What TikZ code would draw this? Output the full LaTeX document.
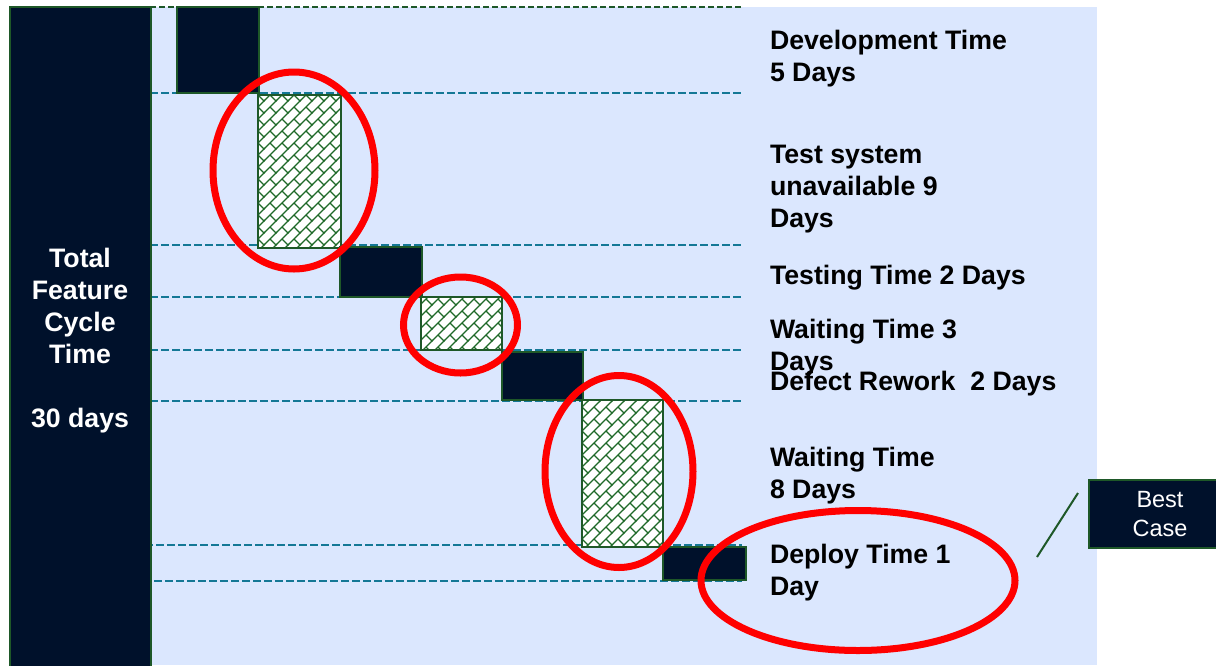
\documentclass[tikz,border=0pt]{standalone}
\usepackage{fontspec}
\setmainfont{Liberation Sans}
\usetikzlibrary{patterns,shapes.geometric}
\definecolor{navy}{RGB}{0,17,43}
\definecolor{bordergreen}{RGB}{30,88,40}
\definecolor{hatchgreen}{RGB}{30,105,40}
\definecolor{bgblue}{RGB}{219,231,254}
\definecolor{teal}{RGB}{20,120,150}
\definecolor{ringred}{RGB}{255,0,0}
\pgfdeclarepatternformonly{diagbrick}{\pgfqpoint{-1pt}{-1pt}}{\pgfqpoint{13pt}{13pt}}{\pgfqpoint{12pt}{12pt}}{%
  \pgfsetlinewidth{1.1pt}%
  \pgfpathmoveto{\pgfqpoint{-1pt}{-1pt}}\pgfpathlineto{\pgfqpoint{13pt}{13pt}}%
  \pgfpathmoveto{\pgfqpoint{6pt}{6pt}}\pgfpathlineto{\pgfqpoint{12pt}{0pt}}%
  \pgfusepath{stroke}}
\tikzset{
  darkblock/.style={draw=bordergreen, line width=2pt, fill=navy, inner sep=0pt, outer sep=0pt, anchor=north west},
  hatchblock/.style={draw=bordergreen, line width=2pt, preaction={fill=white}, pattern=diagbrick, pattern color=hatchgreen, inner sep=0pt, outer sep=0pt, anchor=north west},
  guide/.style={draw=teal, line width=2.2pt, dash pattern=on 8pt off 3pt},
  topguide/.style={draw=bordergreen, line width=1.5pt, dash pattern=on 6pt off 3pt},
  ring/.style={draw=ringred, line width=7pt, ellipse, inner sep=0pt, outer sep=0pt},
  label/.style={font=\fontsize{26.7}{32}\selectfont\bfseries, align=left, anchor=north west, inner sep=0pt, outer sep=0pt},
}
\begin{document}
\begin{tikzpicture}[x=1pt,y=-1pt]
\useasboundingbox (0,0) rectangle (1216,665);
\fill[white] (0,0) rectangle (1216,665);
\fill[bgblue] (150,7) rectangle (1097,665);
% guide lines
\draw[topguide] (150,7) -- (742,7);
\draw[guide] (150,93) -- (742,93);
\draw[guide] (150,245) -- (742,245);
\draw[guide] (150,297) -- (742,297);
\draw[guide] (150,350) -- (742,350);
\draw[guide] (150,401) -- (742,401);
\draw[guide] (145,545) -- (742,545);
\draw[guide] (143,581) -- (742,581);
% total bar
\node[darkblock, minimum width=141pt, minimum height=670pt] (total) at (10,7) {};
% blocks
\node[darkblock, minimum width=82pt, minimum height=86pt] (dev) at (177,7) {};
\node[hatchblock, minimum width=83pt, minimum height=153pt] (testun) at (258,95) {};
\node[darkblock, minimum width=82pt, minimum height=50pt] (testing) at (340,247) {};
\node[hatchblock, minimum width=81pt, minimum height=53pt] (wait3) at (421,297) {};
\node[darkblock, minimum width=81pt, minimum height=48pt] (defect) at (502,352) {};
\node[hatchblock, minimum width=81pt, minimum height=147pt] (wait8) at (582,400) {};
\node[darkblock, minimum width=83pt, minimum height=33pt] (deploy) at (663,547) {};
% rings
\node[ring, minimum width=162pt, minimum height=197pt] (r1) at (294,170.5) {};
\node[ring, minimum width=114pt, minimum height=96pt] (r2) at (460.5,325) {};
\node[ring, minimum width=148pt, minimum height=192pt] (r3) at (619,471.5) {};
\node[ring, minimum width=314pt, minimum height=140pt] (r4) at (858,580.5) {};
% labels
\node[label] (ldev) at (770,30.0) {Development Time\\5 Days};
\node[label] (ltest) at (770,145.0) {Test system\\unavailable 9\\Days};
\node[label] (ltesting) at (770,265.0) {Testing Time 2 Days};
\node[label] (lwait3) at (770,319.0) {Waiting Time 3\\Days};
\node[label] (ldefect) at (770,371.0) {Defect Rework\ \ 2 Days};
\node[label] (lwait8) at (770,447.0) {Waiting Time\\8 Days};
\node[label] (ldeploy) at (770,544.0) {Deploy Time 1\\Day};
\node[label, anchor=north, align=center, text=white] (ltotal) at (80,248.0) {Total\\Feature\\Cycle\\Time\\[32pt]30 days};
% best case
\node[draw=bordergreen, line width=2pt, fill=navy, text=white, minimum width=142pt, minimum height=68pt, align=center, inner sep=0pt, font=\fontsize{23.5}{29}\selectfont] (best) at (1160,514) {Best\\Case};
\coordinate (bc1) at (1037,557);
\coordinate (bc2) at (1078,493);
\draw[bordergreen, line width=2pt] (bc1) -- (bc2);
\end{tikzpicture}
\end{document}
